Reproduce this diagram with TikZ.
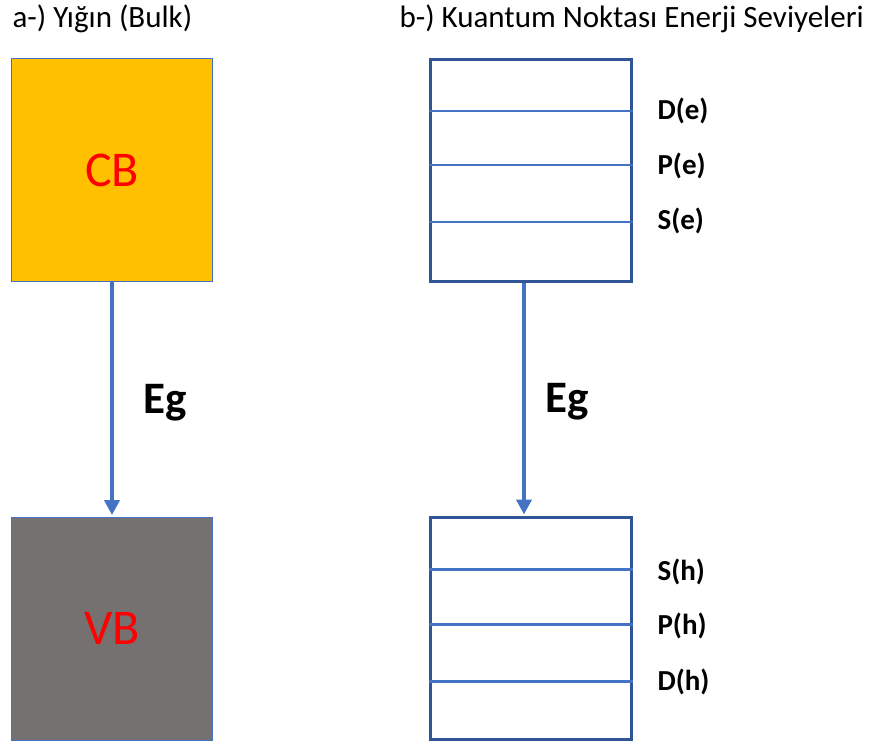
\documentclass[tikz,border=0pt]{standalone}
\usepackage{fontspec}
\setmainfont{Carlito}
\usetikzlibrary{arrows.meta}
\definecolor{cborange}{HTML}{FFC000}
\definecolor{vbgray}{HTML}{767171}
\definecolor{arrowblue}{HTML}{4472C4}
\definecolor{boxblue}{HTML}{2F5597}
\begin{document}
\begin{tikzpicture}[x=1pt,y=-1pt,
  bandbox/.style={draw=arrowblue,line width=1pt,minimum width=201pt,minimum height=223pt,inner sep=0pt,text=red,font=\fontsize{50}{50}\selectfont},
  qdbox/.style={draw=boxblue,line width=3pt,minimum width=201pt,minimum height=222pt,inner sep=0pt},
  level/.style={draw=arrowblue,line width=2.8pt},
  gaparrow/.style={draw=arrowblue,line width=4.5pt,-{Triangle[width=15pt,length=15pt]},shorten >=1.5pt},
  eglabel/.style={font=\bfseries\fontsize{45}{45}\selectfont},
  lvllabel/.style={anchor=west,font=\bfseries\fontsize{29}{29}\selectfont},
  title/.style={anchor=base west,font=\fontsize{31}{31}\selectfont}]
\useasboundingbox (0,0) rectangle (878,742);
\node[title] (ta) at (9,27) {a-) Yığın (Bulk)};
\node[title] (tb) at (396,27) {b-) Kuantum Noktası Enerji Seviyeleri};
\node[bandbox,fill=cborange] (cb) at (112,170) {CB};
\node[bandbox,fill=vbgray] (vb) at (112,628.5) {VB};
\draw[gaparrow] (cb.south) -- (vb.north);
\node[eglabel] (eg1) at (165,403) {Eg};
\node[qdbox] (qe) at (531,170) {};
\node[qdbox] (qh) at (531,628.5) {};
\draw[level] (qe.west |- 0,111) -- (qe.east |- 0,111);
\draw[level] (qe.west |- 0,165) -- (qe.east |- 0,165);
\draw[level] (qe.west |- 0,222) -- (qe.east |- 0,222);
\draw[level] (qh.west |- 0,569.5) -- (qh.east |- 0,569.5);
\draw[level] (qh.west |- 0,624.5) -- (qh.east |- 0,624.5);
\draw[level] (qh.west |- 0,681.5) -- (qh.east |- 0,681.5);
\coordinate (a2s) at (qe.south -| 524,0);
\coordinate (a2e) at (qh.north -| 524,0);
\draw[gaparrow] (a2s) -- (a2e);
\node[eglabel] (eg2) at (567,402) {Eg};
\node[lvllabel] (de) at (654,111) {D(e)};
\node[lvllabel] (pe) at (654,166) {P(e)};
\node[lvllabel] (se) at (654,221) {S(e)};
\node[lvllabel] (sh) at (654,572) {S(h)};
\node[lvllabel] (ph) at (654,626) {P(h)};
\node[lvllabel] (dh) at (654,682) {D(h)};
\end{tikzpicture}
\end{document}
